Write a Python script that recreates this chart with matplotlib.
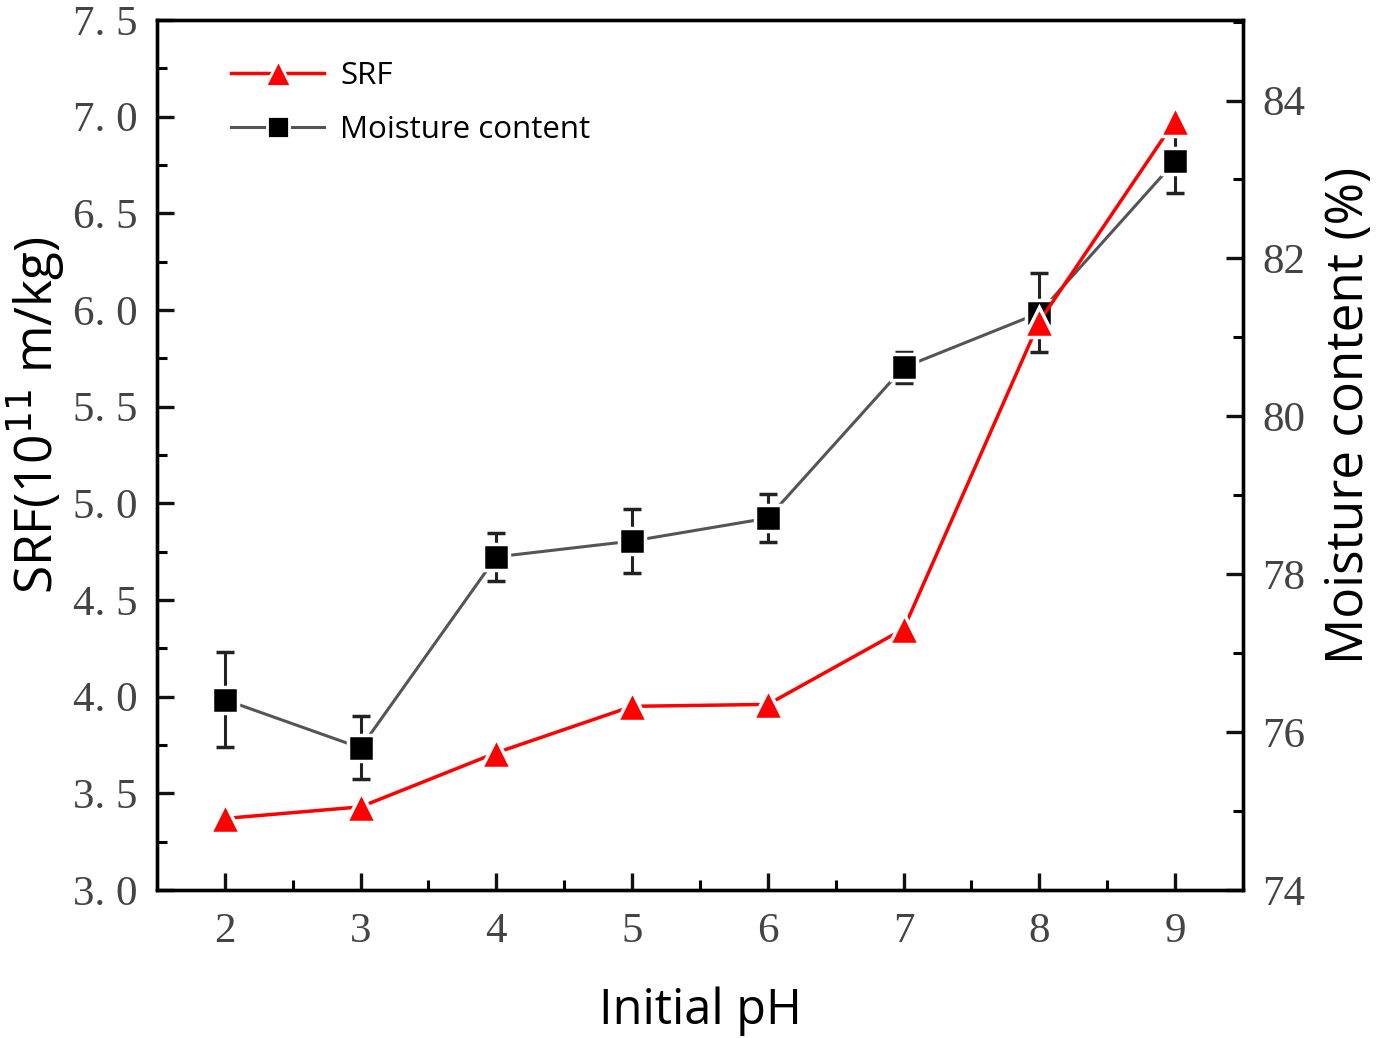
import matplotlib
matplotlib.use("Agg")
import matplotlib.pyplot as plt
from matplotlib.lines import Line2D
from matplotlib.ticker import MultipleLocator, FixedLocator, FixedFormatter

# --- data ---------------------------------------------------------------
ph = [2, 3, 4, 5, 6, 7, 8, 9]
srf = [3.37, 3.43, 3.71, 3.95, 3.96, 4.35, 5.94, 6.98]
moisture = [76.41, 75.80, 78.22, 78.42, 78.71, 80.62, 81.31, 83.23]
moisture_err = [0.60, 0.40, 0.30, 0.40, 0.30, 0.20, 0.50, 0.40]

left_ticks = [3.0, 3.5, 4.0, 4.5, 5.0, 5.5, 6.0, 6.5, 7.0, 7.5]
left_labels = ["3. 0", "3. 5", "4. 0", "4. 5", "5. 0", "5. 5", "6. 0", "6. 5", "7. 0", "7. 5"]
right_ticks = [74, 76, 78, 80, 82, 84]

serif = "Liberation Serif"
sans = "Open Sans"

fig = plt.figure(figsize=(13.93, 10.38), dpi=100)
ax = fig.add_axes([0.1127, 0.1426, 0.7796, 0.8381])
ax2 = ax.twinx()

gray = "#555555"
red = "#ff0000"
ax2.errorbar(ph, moisture, yerr=moisture_err, color=gray, lw=2.2,
             marker="s", ms=19, mfc="black", mec="white", mew=2.5,
             ecolor="#222222", elinewidth=2.2, capsize=6.5, capthick=2.2,
             zorder=3)
ax.plot(ph, srf, color=red, lw=2.5, marker="^", ms=22,
        mfc=red, mec="white", mew=2.5, zorder=4)
ax.set_zorder(ax2.get_zorder() + 1)
ax.patch.set_visible(False)

ax.set_xlim(1.5, 9.5)
ax.set_ylim(3.0, 7.5)
ax2.set_ylim(74, 85.02)

ax.xaxis.set_major_locator(FixedLocator(ph))
ax.xaxis.set_minor_locator(MultipleLocator(0.5))
ax.yaxis.set_major_locator(FixedLocator(left_ticks))
ax.yaxis.set_major_formatter(FixedFormatter(left_labels))
ax.yaxis.set_minor_locator(MultipleLocator(0.25))
ax2.yaxis.set_major_locator(FixedLocator(right_ticks))
ax2.yaxis.set_minor_locator(MultipleLocator(1))

for a in (ax, ax2):
    for s in a.spines.values():
        s.set_linewidth(2.4)
    a.tick_params(which="major", direction="in", length=12, width=2.4,
                  labelsize=31, colors="#111111", labelcolor="#444444", pad=16)
    a.tick_params(which="minor", direction="in", length=7, width=2.2)
    for lab in a.get_xticklabels() + a.get_yticklabels():
        lab.set_fontfamily(serif)
ax.tick_params(axis="y", pad=14)
ax2.tick_params(axis="y", pad=14)
ax.tick_params(top=False, right=False)
ax2.tick_params(left=False)

ax.set_xlabel("Initial pH", fontsize=35, family=sans, labelpad=26)
ax.set_ylabel("SRF(10$^{11}$ m/kg)", fontsize=37, family=sans)
ax2.set_ylabel("Moisture content (%)", fontsize=37, family=sans)
ax.yaxis.set_label_coords(-0.083, 0.546)
ax2.yaxis.set_label_coords(1.075, 0.546)

h1 = Line2D([], [], color=red, lw=2.5, marker="^", ms=19, mfc=red, mec="white", mew=2)
h2 = Line2D([], [], color=gray, lw=2.2, marker="s", ms=16, mfc="black", mec="white", mew=2)
ax.legend([h1, h2], ["SRF", "Moisture content"], loc="upper left",
          bbox_to_anchor=(0.042, 0.985), frameon=False,
          prop={"family": sans, "size": 22.5}, handlelength=3.0,
          handletextpad=0.5, labelspacing=0.75)

fig.savefig("out.png", dpi=100)
